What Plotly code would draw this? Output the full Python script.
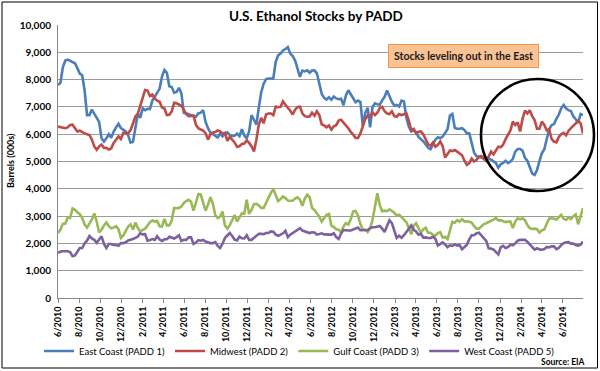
import plotly.graph_objects as go
import pandas as pd

title = "U.S. Ethanol Stocks by PADD"
series_names = ["East Coast (PADD 1)", "Midwest (PADD 2)", "Gulf Coast (PADD 3)", "West Coast (PADD 5)"]

east_coast = [
    7800,7880,8450,8700,8730,8680,8640,8600,8420,8220,
    8160,7600,6700,6700,6900,6750,6600,6450,5850,5730,
    5850,6000,5870,6100,6250,6380,6220,6150,6100,5960,
    5690,5720,6300,6750,6600,6950,6880,6930,6920,7230,
    7370,7550,7670,8120,8350,8250,7760,7730,7520,7550,
    7700,7500,6780,6770,6720,6700,6670,6640,6760,6790,
    6880,6450,6220,6050,6000,5950,5880,6020,5920,6020,
    6070,5970,5930,5940,6020,5930,6180,5950,5850,6100,
    6700,6530,6350,6980,7540,7850,8020,8040,8040,8040,
    8650,8890,8950,9070,9120,9190,8950,8860,8700,8400,
    8100,8330,8300,8340,8250,8330,8340,8230,7800,7480,
    7330,7270,7350,7260,7380,7310,7280,7300,7060,7420,
    7610,7460,7270,7170,7230,7180,6300,6780,6970,6250,
    7000,7130,7100,7080,7240,7370,7600,7370,7190,7050,
    7070,7010,7230,7200,6600,6280,6100,6140,6080,5900,
    5820,5740,5620,5500,5450,5620,5800,5890,5850,5910,
    6030,6180,6680,6740,6230,6200,6200,6220,6150,6030,
    6030,5690,5320,5190,5180,5140,5150,5020,5110,5070,
    5000,4950,4770,4900,4950,5030,4940,5000,5100,5360,
    5460,5460,5400,5130,5030,4800,4560,4510,4690,5010,
    5300,5450,5770,6180,6330,6370,6560,6720,6950,7070,
    6950,6880,6850,6650,6550,6420,6740,6700,
]

midwest = [
    6280,6260,6240,6220,6250,6340,6350,6220,6100,6130,
    6070,6030,6000,5970,5800,5550,5430,5550,5620,5500,
    5500,5440,5480,5680,5800,5920,5820,6050,6050,6030,
    6150,6400,6650,6750,7050,7320,7620,7600,7400,7450,
    7310,7230,7190,6980,6940,6700,6710,6830,7150,7130,
    7070,7040,6900,6730,6660,6680,6680,6350,6220,6170,
    6130,6040,5800,6000,6060,6080,6140,6100,6020,6050,
    5760,5900,5790,5700,5540,5560,5640,5660,5770,5680,
    5550,5370,5800,6350,6600,6400,6720,6760,6760,6700,
    7010,6990,7000,7200,7080,6980,6860,6720,6900,7000,
    7010,6760,6660,6640,6650,6790,6680,6840,6700,6360,
    6320,6250,6320,6170,6290,6330,6500,6530,6420,6350,
    6220,6080,5990,5860,5860,6030,6280,6560,6680,6650,
    6800,6700,6790,6960,7000,6840,6760,6740,6840,6660,
    6640,6740,6700,6730,6760,6500,6150,6200,6030,6090,
    6100,5990,5820,5630,5580,5700,5540,5610,5730,5560,
    5150,5300,5400,5380,5420,5360,5300,5230,5030,4880,
    4940,5110,5000,5060,5170,5200,5080,5080,5180,5360,
    5260,5400,5540,5520,5620,5820,6000,6140,6460,6340,
    6430,6100,6560,6860,6760,6880,6660,6520,6200,6200,
    6460,6340,6140,6180,5830,5730,5700,5900,6000,6050,
    5960,6120,6220,6320,6420,6480,6400,6030,
]

gulf_coast = [
    2380,2500,2720,2720,2950,2930,3280,3230,3140,3070,
    2940,2690,2580,2730,2880,3100,2800,2400,2500,2660,
    2770,2630,2550,2580,2630,2520,2200,2290,2440,2620,
    2700,2510,2760,2560,2440,2500,2540,2650,2780,2840,
    2800,2820,2630,2620,2900,2660,2660,2840,3300,3290,
    3300,3350,3480,3550,3600,3530,3200,3480,3800,3790,
    3530,3200,3420,3690,3460,3040,2930,2980,3170,2660,
    2540,2670,2850,3040,2800,2950,3100,3090,3600,3080,
    3230,3440,3450,3390,3300,3300,3500,3680,3850,3990,
    3750,3550,3620,3720,3660,3570,3560,3560,3640,3690,
    3600,3380,3640,3780,3700,3300,3220,3100,2980,2800,
    2930,3050,3080,2650,2600,2520,2500,2400,2620,2740,
    2690,2880,3170,3190,3020,2700,2520,2500,2420,2560,
    2850,3400,3840,3400,3180,3200,3180,3250,3200,3120,
    3020,3050,2960,2870,2780,2570,2330,2650,2740,2560,
    2390,2520,2570,2390,2390,2310,2290,2380,2410,2210,
    2240,2160,2530,2790,2760,2850,2800,2890,2800,2810,
    2790,2760,2630,2540,2540,2630,2710,2740,2780,2800,
    2870,2930,2840,2850,2800,2780,2800,2800,2560,2800,
    2920,2880,2920,2850,2670,2560,2530,2540,2520,2400,
    2480,2510,2720,2910,2920,2910,2870,2950,3050,2900,
    2860,2950,2890,3000,3060,2700,3050,3290,
]

west_coast = [
    1650,1700,1710,1710,1710,1680,1530,1560,1700,1830,
    1830,2000,2100,2270,2180,2130,2020,2150,2260,1980,
    1830,1980,1980,1940,1940,1910,2010,2010,2040,2110,
    2130,2160,2200,2250,2370,2330,2340,2100,2120,2160,
    2130,2260,2140,2090,2150,2150,2240,2210,2180,2230,
    2300,2090,2130,2130,2220,2220,1980,2030,2120,2100,
    2130,2070,2040,2010,2010,2050,1910,1830,1990,2200,
    2290,2380,2270,2140,2110,2250,2190,2180,2300,2130,
    2130,2200,2250,2350,2350,2340,2380,2380,2440,2430,
    2320,2280,2320,2370,2460,2230,2320,2380,2440,2480,
    2560,2470,2440,2400,2380,2410,2400,2320,2350,2370,
    2330,2330,2340,2320,2370,2230,2160,2360,2490,2470,
    2470,2470,2500,2530,2580,2480,2480,2500,2490,2560,
    2590,2590,2620,2640,2540,2420,2640,2850,2740,2450,
    2200,2280,2210,2300,2420,2580,2660,2500,2440,2320,
    2350,2210,2220,2200,2200,2240,2170,1920,1990,2040,
    1960,1860,1930,1910,1960,1920,1940,1790,1870,1950,
    2150,2300,2300,2370,2390,2280,2200,2090,1820,1810,
    1770,1700,1600,1860,1910,1830,1860,1950,1930,2000,
    2100,2130,2130,2130,2060,1960,1880,1770,1820,1780,
    1770,1790,1870,1850,1890,1890,1790,1830,1940,2010,
    2040,2050,1990,1990,1940,1920,1950,2070,
]

start_week = "2010-06-04"
weeks = pd.date_range(start_week, periods=len(east_coast), freq="7D")

colors = ["#4A7EBB", "#BE4B48", "#98B954", "#7D60A0"]
FONT = "Lato"

# pixel -> paper helpers for the fixed plot box (l=58, r=583, t=25, b=298)
def px(x):
    return (x - 58) / 525

def py(y):
    return (298 - y) / 273

fig = go.Figure()
for name, vals, col in zip(series_names, [east_coast, midwest, gulf_coast, west_coast], colors):
    fig.add_trace(go.Scatter(x=weeks[:len(vals)], y=vals, mode="lines", name=name,
                             line=dict(color=col, width=2.6)))

fig.update_layout(
    width=600, height=371,
    margin=dict(l=58, r=17, t=25, b=73, autoexpand=False),
    paper_bgcolor="white", plot_bgcolor="white",
    font=dict(family=FONT, color="#000000"),
    title=dict(text="<b>" + title + "</b>", x=316 / 600, xanchor="center", y=1 - 16 / 371,
               yanchor="middle", font=dict(size=13.5, family=FONT)),
    showlegend=True,
    legend=dict(orientation="h", x=px(39), xanchor="left", y=py(351), yanchor="middle",
                font=dict(size=9.5, family=FONT),
                itemwidth=30, bgcolor="rgba(0,0,0,0)", tracegroupgap=0),
)

fig.update_xaxes(
    type="date",
    range=[weeks[0], weeks[-1]],
    tick0=start_week, dtick="M2", tickformat="%-m/%Y",
    tickangle=-90, tickfont=dict(size=9, family=FONT, weight="bold"),
    showgrid=False, showline=True, linecolor="#878787", linewidth=1,
    ticks="outside", ticklen=4, tickcolor="#878787", zeroline=False,
)
fig.update_yaxes(
    range=[0, 10000], dtick=1000, tickformat=",",
    tickfont=dict(size=10, family=FONT, weight="bold"),
    showgrid=True, gridcolor="#9c9c9c", gridwidth=1,
    showline=True, linecolor="#878787", linewidth=1, zeroline=False,
    ticks="", ticklabelstandoff=4,
)

# Y-axis title
fig.add_annotation(xref="paper", yref="paper", x=px(10), y=py(161), text="<b>Barrels (000s)</b>",
                   textangle=-90, showarrow=False, font=dict(size=9, family=FONT),
                   xanchor="center", yanchor="middle")

# Outer chart border
fig.add_shape(type="rect", xref="paper", yref="paper",
              x0=px(2), x1=px(597.5), y0=py(368), y1=py(2),
              line=dict(color="black", width=1), fillcolor="rgba(0,0,0,0)", layer="above")

# Highlight circle
fig.add_shape(type="circle", xref="paper", yref="paper",
              x0=px(481), x1=px(594), y0=py(191), y1=py(79),
              line=dict(color="black", width=2.6), layer="above")

# Callout box
fig.add_annotation(xref="paper", yref="paper", x=px(463), y=py(56),
                   text="<b>Stocks leveling out in the East</b>", showarrow=False,
                   font=dict(size=10.5, family=FONT, color="#1a1a1a"),
                   bgcolor="#FBC393", bordercolor="#F79646", borderwidth=1,
                   borderpad=5, xanchor="center", yanchor="middle")

fig.add_annotation(xref="paper", yref="paper", x=px(587), y=py(362),
                   text="<b>Source: EIA</b>", showarrow=False,
                   font=dict(size=8.5, family=FONT), xanchor="right", yanchor="middle")

fig.write_html("out.html", config={"displayModeBar": False},
               post_script="document.body.style.margin='0';document.body.style.overflow='hidden';")
